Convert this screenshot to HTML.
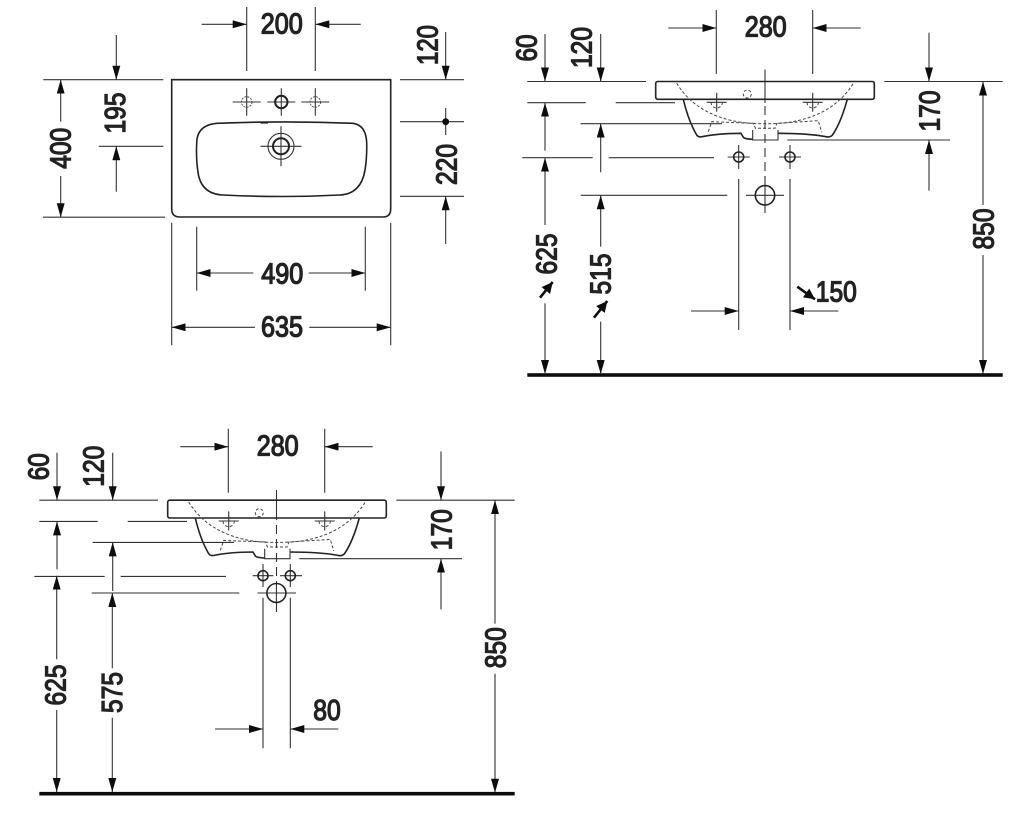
<!DOCTYPE html>
<html>
<head>
<meta charset="utf-8">
<style>
html,body{margin:0;padding:0;background:#fff;width:1024px;height:816px;overflow:hidden}
svg{display:block}
.l{fill:none;stroke:#333;stroke-width:1.1}
.a{fill:none;stroke:#333;stroke-width:1.1;marker-end:url(#ah)}
.d{fill:none;stroke:#111;stroke-width:2.6;marker-end:url(#ad)}
.o{fill:none;stroke:#222;stroke-width:1.6}
.t{fill:none;stroke:#222;stroke-width:2}
.ds{fill:none;stroke:#444;stroke-width:1;stroke-dasharray:3 2}
.c{fill:none;stroke:#333;stroke-width:1.1;stroke-dasharray:9 5}
text{font-family:"Liberation Sans",sans-serif;font-weight:normal;font-size:29px;fill:#222;stroke:#222;stroke-width:1.3;text-anchor:middle}
</style>
</head>
<body>
<svg width="1024" height="816" viewBox="0 0 1024 816" xmlns="http://www.w3.org/2000/svg">
<defs>
<filter id="soft" x="0" y="0" width="100%" height="100%"><feGaussianBlur stdDeviation="0.3"/></filter>
<marker id="ah" markerUnits="userSpaceOnUse" markerWidth="14" markerHeight="8" refX="14" refY="4" orient="auto"><path d="M0 0L14 4L0 8z" fill="#111"/></marker>
<marker id="ad" markerUnits="userSpaceOnUse" markerWidth="11" markerHeight="11" refX="11" refY="5.5" orient="auto"><path d="M0 0L11 5.5L0 11z" fill="#111"/></marker>
<g id="side">
<rect class="o" x="655.7" y="81.5" width="218.6" height="17.8" rx="2"/>
<path class="o" d="M683.3 99.3C687 115 692 127 696.7 135Q698.5 137.5 702 136.7C715 134 728 133.3 741 133.3L743.5 137.5Q745 139 752.7 139.3M778 133.3C795 133.3 812 134 826 136.7Q830 137.7 832.5 135C838 127 843 115 847.3 99.3"/>
<path class="l" d="M752.7 130V140H778V130"/>
<path class="ds" d="M676.7 83.3C690 105 712 118 742 122.5Q765 125 788 122.5C818 118 840 105 853.3 83.3"/>
<path class="ds" d="M708.3 131.7L711.7 121.7L753 123.3L755.5 128.3H775L777 123.3L818.3 120.7L821.7 132.3"/>
<path class="l" d="M716.7 92.7V111.7M706.7 102.3H726.7M812.7 92.7V111.7M802.7 102.3H822.7"/>
<path class="ds" d="M711 102.3A5.7 5.7 0 0 0 722.4 102.3M807 102.3A5.7 5.7 0 0 0 818.4 102.3"/>
<circle class="ds" cx="747.3" cy="94" r="4"/>
<path class="l" d="M527.3 81.5H646M884.3 81.5H1002.7M527.3 102.7H585.7M615.7 102.7H675M580.7 123.7H722M522.3 157.7H592.7M608.7 157.7H714M787.3 140H950M716.3 10V74M812.7 10V74"/>
<path class="a" d="M668.3 28H716.3"/><path class="a" d="M860.7 28H812.7"/>
<text x="765.7" y="36.7" textLength="42" lengthAdjust="spacingAndGlyphs">280</text>
<path class="a" d="M545 34V81.5"/><path class="a" d="M600.7 34V81.5"/>
<text transform="translate(526 48) rotate(-90)" y="10.3" textLength="27" lengthAdjust="spacingAndGlyphs">60</text>
<text transform="translate(581.3 47.5) rotate(-90)" y="10.3" textLength="41" lengthAdjust="spacingAndGlyphs">120</text>
<path class="a" d="M545 150.7V102.7"/>
<path class="a" d="M600.7 172.3V123.7"/>
<path class="a" d="M929 32.7V81.5"/><path class="a" d="M929 190.7V140"/>
<text transform="translate(929.3 111) rotate(-90)" y="10.3" textLength="41" lengthAdjust="spacingAndGlyphs">170</text>
<path class="a" d="M983 205V81.5"/><path class="a" d="M983 255V374"/>
<text transform="translate(983 229) rotate(-90)" y="10.3" textLength="41" lengthAdjust="spacingAndGlyphs">850</text>
<rect x="527.3" y="373.2" width="475.4" height="3.6" fill="#111"/>
</g>
</defs>

<g filter="url(#soft)">
<rect width="1024" height="816" fill="#fff"/>
<!-- plan view -->
<path class="o" d="M171.7 79.7H390.7V209Q390.7 217 383 217H180Q171.7 217 171.7 209Z"/>
<path class="o" d="M216.7 123.3Q285 120.5 353 123.3Q366 125 366.7 143Q367 158 365 170Q361 194 340 195Q282 198 223 195Q200 194 197.7 170Q196 158 196.7 143Q197 125 216.7 123.3Z"/>
<path class="t" d="M260.5 122.6H268"/>
<path class="l" d="M232.7 102H260.7M246.7 88.3V115.7M267.3 102H295.3M281.3 88.3V115.7M301.3 102H329.3M315.3 88.3V115.7M260.5 146.3H301.5M281 126.3V166.3"/>
<circle cx="246.7" cy="102" r="5.3" fill="none" stroke="#444" stroke-width=".9" stroke-dasharray="2 1.2"/>
<circle cx="281.3" cy="102" r="6.2" class="t"/>
<circle cx="315.3" cy="102" r="5.3" fill="none" stroke="#444" stroke-width=".9" stroke-dasharray="2 1.2"/>
<circle cx="281" cy="146.3" r="13" class="l"/>
<circle cx="281" cy="146.3" r="8" class="t"/>
<path class="l" d="M246.7 7V71M315.3 7V71M43.3 79.7H163.3M43 217.2H165M98.7 146.3H163.3M400 79.7H464M400 121.7H464M445.7 108V135M400 196.3H464M196.7 226.7V290.7M365.3 226.7V290.7M171.7 222.7V345.3M390.7 222.7V345.3"/>
<circle cx="445.7" cy="121.7" r="3.4" fill="#111"/>
<path class="a" d="M201.7 24.3H246.7"/><path class="a" d="M360.7 24.3H315.3"/>
<text x="281.8" y="33.3" textLength="42" lengthAdjust="spacingAndGlyphs">200</text>
<path class="a" d="M60.7 121.7V79.7"/><path class="a" d="M60.7 176V217.2"/>
<text transform="translate(60.3 148.3) rotate(-90)" y="10.3" textLength="41" lengthAdjust="spacingAndGlyphs">400</text>
<path class="a" d="M116.3 35V79.7"/><path class="a" d="M116.3 191.7V146.3"/>
<text transform="translate(114.5 113) rotate(-90)" y="10.3" textLength="41" lengthAdjust="spacingAndGlyphs">195</text>
<path class="a" d="M445.7 32V79.7"/>
<text transform="translate(427.2 45) rotate(-90)" y="10.3" textLength="40" lengthAdjust="spacingAndGlyphs">120</text>
<text transform="translate(446.2 164.5) rotate(-90)" y="10.3" textLength="41" lengthAdjust="spacingAndGlyphs">220</text>
<path class="a" d="M445.7 244V196.3"/>
<path class="a" d="M253.3 273H196.7"/><path class="a" d="M308.7 273H365.3"/>
<text x="282.3" y="283.3" textLength="42" lengthAdjust="spacingAndGlyphs">490</text>
<path class="a" d="M255 327.3H171.7"/><path class="a" d="M309.3 327.3H390.7"/>
<text x="282" y="336.7" textLength="42" lengthAdjust="spacingAndGlyphs">635</text>

<!-- side view, top right -->
<use href="#side"/>
<path class="l" d="M765 69.5V103"/>
<path class="c" d="M765 106V178"/>
<path class="l" d="M765 176V213M727.7 157H749.7M738.7 145V169M779 157H801M790 145V169M746 195.3H784M580.7 195.3H727.3M738.7 179V330M790 179V330"/>
<circle class="o" cx="738.7" cy="157" r="5"/>
<circle class="o" cx="790" cy="157" r="5"/>
<circle class="o" cx="765" cy="195.3" r="9.7"/>
<path class="a" d="M545 225V157.7"/><path class="a" d="M545 303.3V374"/>
<text transform="translate(546.3 254) rotate(-90)" y="10.3" textLength="41" lengthAdjust="spacingAndGlyphs">625</text>
<path class="d" d="M540 297.7L552.7 282"/>
<path class="a" d="M600.7 246.7V195.3"/><path class="a" d="M600.7 321.7V374"/>
<text transform="translate(600 274) rotate(-90)" y="10.3" textLength="41" lengthAdjust="spacingAndGlyphs">515</text>
<path class="d" d="M594 317.7L607.3 301"/>
<path class="a" d="M691 311H738.7"/><path class="a" d="M838.3 311H790"/>
<text x="836.3" y="301.7" textLength="41" lengthAdjust="spacingAndGlyphs">150</text>
<path class="d" d="M797.3 286.7L815 299.3"/>

<!-- side view, bottom left -->
<use href="#side" transform="translate(-488 418.7)"/>
<path class="l" d="M276.5 490V520"/>
<path class="c" d="M276.5 525V600"/>
<path class="l" d="M276.5 590V612M252.7 575.7H273.3M263 564V587M280 575.7H302M290.3 564V587M257.5 593H296M91.7 593H239.3M263 597.7V748.3M290.3 597.7V748.3"/>
<circle class="o" cx="263" cy="575.7" r="5"/>
<circle class="o" cx="290.3" cy="575.7" r="5"/>
<circle cx="276.4" cy="593" r="9.5" fill="#fff" stroke="#222" stroke-width="1.6"/>
<path class="l" d="M267 593H286M276.4 584V602"/>
<path class="a" d="M56.7 659.3V575.7"/><path class="a" d="M56.7 710V792"/>
<text transform="translate(55.3 685) rotate(-90)" y="10.3" textLength="41" lengthAdjust="spacingAndGlyphs">625</text>
<path class="a" d="M112.3 668.3V593"/><path class="a" d="M112.3 717.7V792"/>
<text transform="translate(111.7 692.5) rotate(-90)" y="10.3" textLength="41" lengthAdjust="spacingAndGlyphs">575</text>
<path class="a" d="M215 729H263"/><path class="a" d="M338.3 729H290.3"/>
<text x="327" y="720" textLength="27.5" lengthAdjust="spacingAndGlyphs">80</text>
</g>
</svg>
</body>
</html>
